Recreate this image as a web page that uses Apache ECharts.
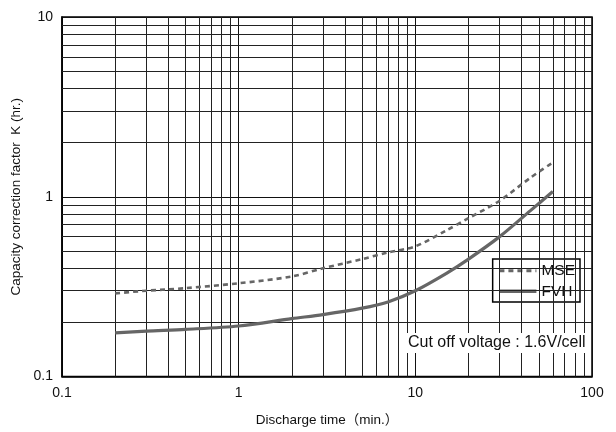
<!DOCTYPE html>
<html>
<head>
<meta charset="utf-8">
<script src="https://cdn.jsdelivr.net/npm/echarts@6/dist/echarts.min.js"></script>
<style>
html,body{margin:0;padding:0;background:#fff;}
#chart{width:616px;height:432px;}
</style>
</head>
<body>
<div id="chart"></div>
<script>
// Discharge time (min.)
const dischargeTime = [0.2, 0.3, 0.5, 1, 2, 3, 5, 7, 10, 15, 20, 30, 45, 60];
// Capacity correction factor K (hr.)
const mseValues = [0.29, 0.30, 0.31, 0.33, 0.36, 0.40, 0.45, 0.49, 0.53, 0.65, 0.76, 0.95, 1.28, 1.55];
const fvhValues = [0.175, 0.179, 0.183, 0.191, 0.210, 0.221, 0.240, 0.260, 0.300, 0.375, 0.45, 0.60, 0.84, 1.07];
const seriesNames = ['MSE', 'FVH'];
// Minor grid positions
const xMinorGrid = [0.2,0.3,0.4,0.5,0.6,0.7,0.8,0.9, 2,3,4,5,6,7,8,9, 20,30,40,50,60,70,80,90];
const yMinorGrid = [0.2,0.3,0.4,0.5,0.6,0.7,0.8,0.9, 2,3,4,5,6,7,8,9];
const xTitle = 'Discharge time（min.）';
const yTitle = 'Capacity correction factor  K (hr.)';
const note = 'Cut off voltage : 1.6V/cell';

const font = '"Liberation Sans", Arial, "Noto Sans CJK JP", sans-serif';
const chart = echarts.init(document.getElementById('chart'), null, {renderer: 'canvas'});

const gridLines = [];
xMinorGrid.forEach(v => gridLines.push({xAxis: v}));
yMinorGrid.forEach(v => gridLines.push({yAxis: v}));

const mseStyle = {color: '#666', width: 2.6, type: [5, 4]};
const fvhStyle = {color: '#666', width: 3.2, type: 'solid'};

chart.setOption({
  animation: false,
  backgroundColor: '#fff',
  textStyle: {fontFamily: font},
  grid: {left: 62, right: 24, top: 17, bottom: 53, show: true, borderColor: '#000', borderWidth: 1.5, backgroundColor: 'transparent'},
  xAxis: {
    type: 'log', logBase: 10, min: 0.1, max: 100,
    name: xTitle, nameLocation: 'middle', nameGap: 37,
    nameTextStyle: {fontSize: 13.5, color: '#111', fontFamily: font},
    axisLine: {show: true, lineStyle: {color: '#000', width: 1.5}},
    axisTick: {show: false},
    axisLabel: {fontSize: 14, color: '#111', margin: 10, fontFamily: font},
    splitLine: {show: true, lineStyle: {color: '#111', width: 1}},
    minorTick: {show: false}, minorSplitLine: {show: false}
  },
  yAxis: {
    type: 'log', logBase: 10, min: 0.1, max: 10,
    name: yTitle, nameLocation: 'middle', nameGap: 28, nameRotate: 90,
    nameTextStyle: {fontSize: 13.5, color: '#111', fontFamily: font},
    axisLine: {show: true, lineStyle: {color: '#000', width: 1.5}},
    axisTick: {show: false},
    axisLabel: {fontSize: 14, color: '#111', margin: 9, fontFamily: font},
    splitLine: {show: true, lineStyle: {color: '#111', width: 1}},
    minorTick: {show: false}, minorSplitLine: {show: false}
  },
  legend: {
    data: [
      {name: seriesNames[0], itemStyle: {opacity: 0}, lineStyle: {color: '#666', width: 3, type: [5, 4]}},
      {name: seriesNames[1], itemStyle: {opacity: 0}, lineStyle: {color: '#666', width: 3.5, type: 'solid'}}
    ],
    orient: 'vertical', right: 36, top: 259,
    itemWidth: 37, itemHeight: 12, itemGap: 5,
    backgroundColor: '#fff', borderColor: '#000', borderWidth: 1.5,
    padding: [4, 5, 3, 5],
    textStyle: {fontSize: 15.5, color: '#111', fontFamily: font, padding: [0, 0, 0, 0]},
    selectedMode: false
  },
  graphic: [{
    type: 'text', left: 405, top: 333, z: 50,
    style: {text: note, font: '16px ' + font, fill: '#111', backgroundColor: '#fff', padding: [2, 3]}
  }],
  series: [
    {
      name: 'grid', type: 'line', data: [], z: 1, silent: true,
      markLine: {silent: true, symbol: ['none', 'none'], label: {show: false},
        lineStyle: {color: '#222', width: 1, type: 'solid'}, emphasis: {disabled: true},
        data: gridLines}
    },
    {
      name: seriesNames[0], type: 'line', z: 5, smooth: 0.3, symbol: 'none',
      data: dischargeTime.map((t, i) => [t, mseValues[i]]),
      lineStyle: mseStyle,
      itemStyle: {color: '#666'}
    },
    {
      name: seriesNames[1], type: 'line', z: 5, smooth: 0.3, symbol: 'none',
      data: dischargeTime.map((t, i) => [t, fvhValues[i]]),
      lineStyle: fvhStyle,
      itemStyle: {color: '#666'}
    }
  ]
});
</script>
</body>
</html>
